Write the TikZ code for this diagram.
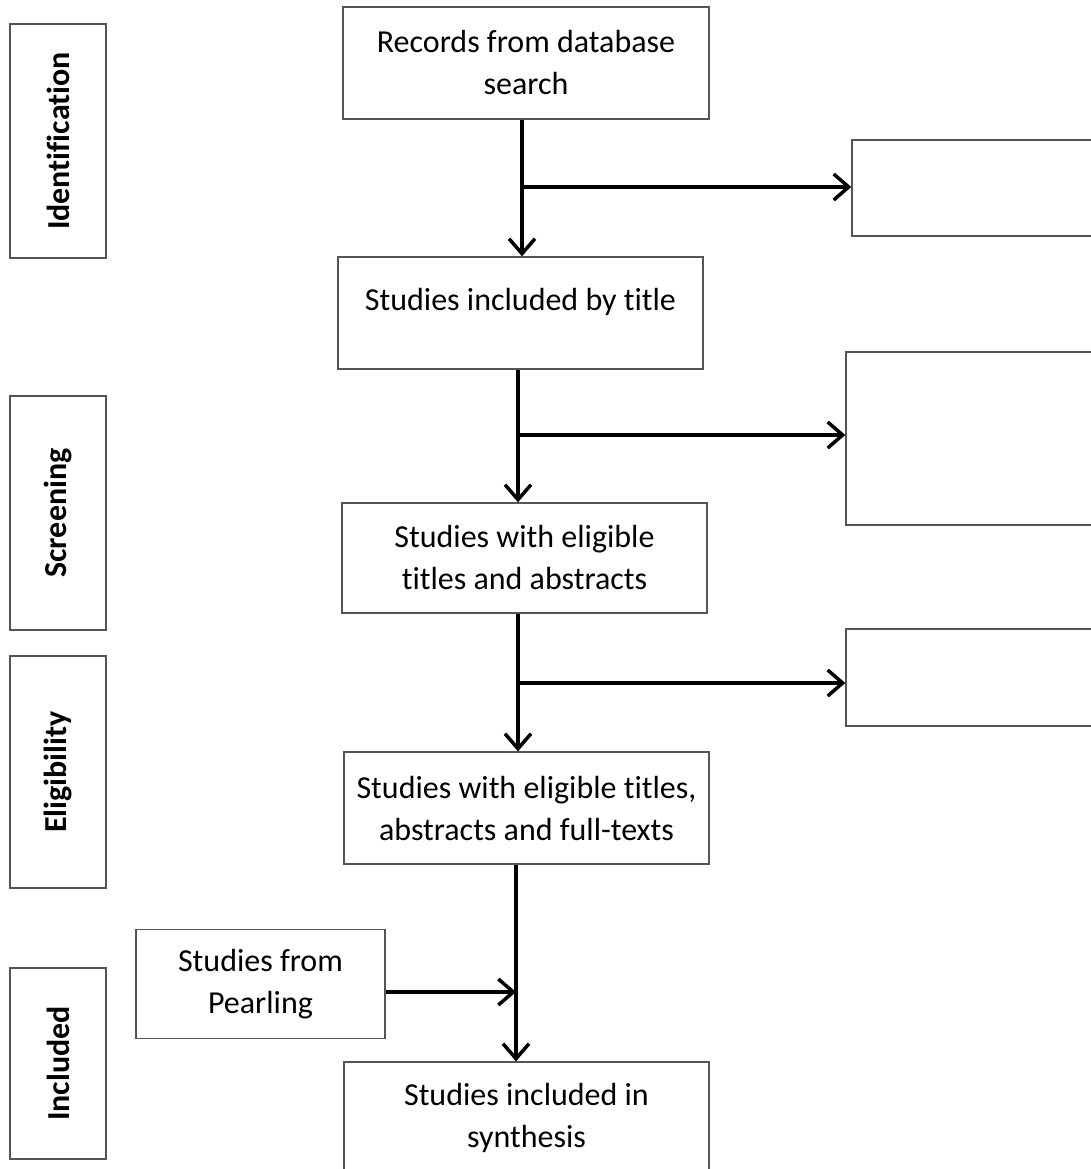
\documentclass[tikz,border=0pt]{standalone}
\usepackage{fontspec}
\setmainfont[Ligatures=NoCommon]{Carlito}
\usetikzlibrary{arrows.meta}
\definecolor{boxline}{HTML}{555555}
\tikzset{
  box/.style={draw=boxline, line width=1.3pt, rectangle, inner sep=0pt, align=center,
    font=\fontsize{32}{42}\selectfont},
  sidebox/.style={draw=boxline, line width=1.3pt, rectangle, inner sep=0pt,
    minimum width=96pt},
  sidetext/.style={font=\bfseries\fontsize{32}{40}\selectfont, rotate=90},
  txt/.style={font=\fontsize{32}{42}\selectfont, align=center, inner sep=0pt},
  arr/.style={line width=3.5pt, -{Straight Barb[length=15pt,width=26pt,line width=3.5pt]}}
}
\begin{document}
\begin{tikzpicture}[x=1pt,y=-1pt]
\fill[white] (0,0) rectangle (1091,1169);
\clip (0,0) rectangle (1091,1169);
% side labels
\node[sidebox, minimum height=234pt] (sid) at (58,141) {};
\node[sidetext] (sidt) at (sid.center) {Identification};
\node[sidebox, minimum height=234pt] (sscr) at (58,513) {};
\node[sidetext] (sscrt) at (sscr.center) {Screening};
\node[sidebox, minimum height=232pt] (selig) at (58,772) {};
\node[sidetext] (seligt) at (selig.center) {Eligibility};
\node[sidebox, minimum height=191pt] (sinc) at (58,1063.5) {};
\node[sidetext] (sinct) at (sinc.center) {Included};
% main boxes
\node[box, minimum width=366pt, minimum height=112pt] (rec) at (526,63) {Records from database\\search};
\node[box, minimum width=365pt, minimum height=112pt] (b2) at (520.5,313) {};
\node[txt] (b2t) at (520.5,302) {Studies included by title};
\node[box, minimum width=365pt, minimum height=110pt] (b3) at (524.5,558) {Studies with eligible\\titles and abstracts};
\node[box, minimum width=365pt, minimum height=112pt] (b4) at (526.5,808) {Studies with eligible titles,\\abstracts and full-texts};
\node[box, minimum width=249pt, minimum height=109pt] (pear) at (260.5,984) {Studies from\\Pearling};
\node[box, minimum width=365pt, minimum height=112pt] (fin) at (526.5,1118) {Studies included in\\synthesis};
% right boxes
\node[box, minimum width=250pt, minimum height=96pt] (r1) at (977,188) {};
\node[box, minimum width=256pt, minimum height=173pt] (r2) at (974,438.5) {};
\node[box, minimum width=256pt, minimum height=97pt] (r3) at (974,677.5) {};
% connectors
\coordinate (j1) at (522,187);
\coordinate (j2) at (518,435);
\coordinate (j3) at (518,683);
\coordinate (j4) at (516,992);
\draw[arr] (j1 |- rec.south) -- (j1 |- b2.north);
\draw[arr] (j1) -- (j1 -| r1.west);
\draw[arr] (j2 |- b2.south) -- (j2 |- b3.north);
\draw[arr] (j2) -- (j2 -| r2.west);
\draw[arr] (j3 |- b3.south) -- (j3 |- b4.north);
\draw[arr] (j3) -- (j3 -| r3.west);
\draw[arr] (j4 |- b4.south) -- (j4 |- fin.north);
\draw[arr] (pear.east |- j4) -- (j4);
\end{tikzpicture}
\end{document}
